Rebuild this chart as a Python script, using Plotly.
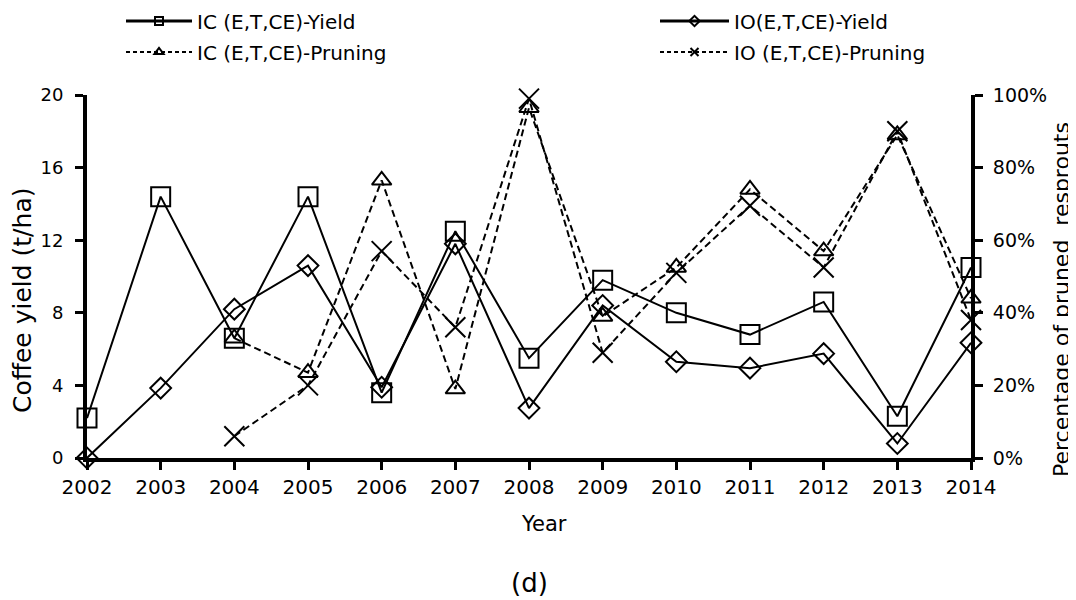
import plotly.graph_objects as go

years = list(range(2002, 2015))
ic_yield = [2.2, 14.4, 6.6, 14.4, 3.6, 12.5, 5.5, 9.8, 8.0, 6.8, 8.6, 2.3, 10.5]
io_yield = [0.0, 3.85, 8.2, 10.6, 3.9, 11.8, 2.75, 8.4, 5.3, 4.95, 5.75, 0.8, 6.35]
ic_prune = [None, None, 0.33, 0.235, 0.765, 0.19, 0.965, 0.39, 0.525, 0.74, 0.57, 0.89, 0.44]
io_prune = [None, None, 0.06, 0.20, 0.57, 0.36, 0.99, 0.29, 0.51, 0.695, 0.525, 0.90, 0.38]

names = ["IC (E,T,CE)-Yield", "IO(E,T,CE)-Yield", "IC (E,T,CE)-Pruning", "IO (E,T,CE)-Pruning"]

FONT = "DejaVu Sans"
W, H = 1076, 600
OFF = 8  # page body offset
SX0, SX1, SY0, SY1 = 87, 971, 95, 458
PW, PH = SX1 - SX0, SY1 - SY0
L, T = SX0 - OFF, SY0 - OFF
R, B = W - L - PW, H - T - PH


def px(xs):
    return (xs - SX0) / PW


def py(ys):
    return (SY1 - ys) / PH


fig = go.Figure()

DASH = "7px,4px"
fig.add_trace(go.Scatter(x=years, y=ic_yield, mode="lines+markers", showlegend=False, cliponaxis=False,
                         line=dict(color="black", width=2),
                         marker=dict(symbol="square-open", size=19, color="black", line=dict(width=2))))
fig.add_trace(go.Scatter(x=years, y=io_yield, mode="lines+markers", showlegend=False, cliponaxis=False,
                         line=dict(color="black", width=2),
                         marker=dict(symbol="diamond-open", size=16, color="black", line=dict(width=2))))
fig.add_trace(go.Scatter(x=years, y=ic_prune, mode="lines+markers", showlegend=False, cliponaxis=False,
                         yaxis="y2", line=dict(color="black", width=2, dash=DASH),
                         marker=dict(symbol="triangle-up-open", size=17, color="black", line=dict(width=2))))
fig.add_trace(go.Scatter(x=years, y=io_prune, mode="lines+markers", showlegend=False, cliponaxis=False,
                         yaxis="y2", line=dict(color="black", width=2, dash=DASH),
                         marker=dict(symbol="x-thin-open", size=20, color="black", line=dict(width=2))))

leg_specs = [
    (names[0], "square-open", "solid", 3, "legend"),
    (names[1], "diamond-open", "solid", 3, "legend2"),
    (names[2], "triangle-up-open", "4px,3px", 2, "legend3"),
    (names[3], "x-thin-open", "4px,3px", 2, "legend4"),
]
for nm, sym, dash, lw, lg in leg_specs:
    fig.add_trace(go.Scatter(x=[None], y=[None], name=nm, mode="lines+markers", legend=lg,
                             line=dict(color="black", width=lw, dash=dash),
                             marker=dict(symbol=sym, size=8, color="black", line=dict(width=2))))

axis_common = dict(showline=True, linecolor="black", linewidth=4, ticks="outside", ticklen=8,
                   tickwidth=3, tickcolor="black", showgrid=False, zeroline=False)

leg_common = dict(orientation="h", xanchor="left", yanchor="middle", bgcolor="rgba(0,0,0,0)",
                  font=dict(family=FONT, size=20, color="black"))

fig.update_layout(
    width=W, height=H, autosize=False,
    margin=dict(l=L, r=R, t=T, b=B, autoexpand=False),
    plot_bgcolor="white", paper_bgcolor="white",
    font=dict(family=FONT, color="black"),
    xaxis=dict(range=[2002, 2014], tickvals=years, tickfont=dict(family=FONT, size=20, color="black"),
               **axis_common),
    yaxis=dict(range=[0, 20], tickvals=[0, 4, 8, 12, 16, 20], ticklabelstandoff=8,
               tickfont=dict(family=FONT, size=18, color="black"), **axis_common),
    yaxis2=dict(range=[0, 1], tickvals=[0, 0.2, 0.4, 0.6, 0.8, 1.0], tickformat=".0%", overlaying="y",
                side="right", ticklabelstandoff=6,
                tickfont=dict(family=FONT, size=19, color="black"), **axis_common),
    legend=dict(x=px(121), y=py(21), itemwidth=66, **leg_common),
    legend2=dict(x=px(655), y=py(21), itemwidth=69, **leg_common),
    legend3=dict(x=px(121), y=py(52), itemwidth=66, **leg_common),
    legend4=dict(x=px(655), y=py(52), itemwidth=69, **leg_common),
)

ann_font = dict(family=FONT, color="black")
common_ann = dict(xref="paper", yref="paper", showarrow=False, xanchor="center", yanchor="middle")
fig.add_annotation(text="Coffee yield (t/ha)", x=px(22), y=py(301), textangle=-90,
                   font=dict(size=25, **ann_font), **common_ann)
fig.add_annotation(text="Percentage of pruned  resprouts", x=px(1061), y=py(300), textangle=-90,
                   font=dict(size=22, **ann_font), **common_ann)
fig.add_annotation(text="Year", x=px(544), y=py(524), font=dict(size=21, **ann_font), **common_ann)
fig.add_annotation(text="(d)", x=px(529), y=py(583), font=dict(size=26, **ann_font), **common_ann)

fig.write_html("out.html")
